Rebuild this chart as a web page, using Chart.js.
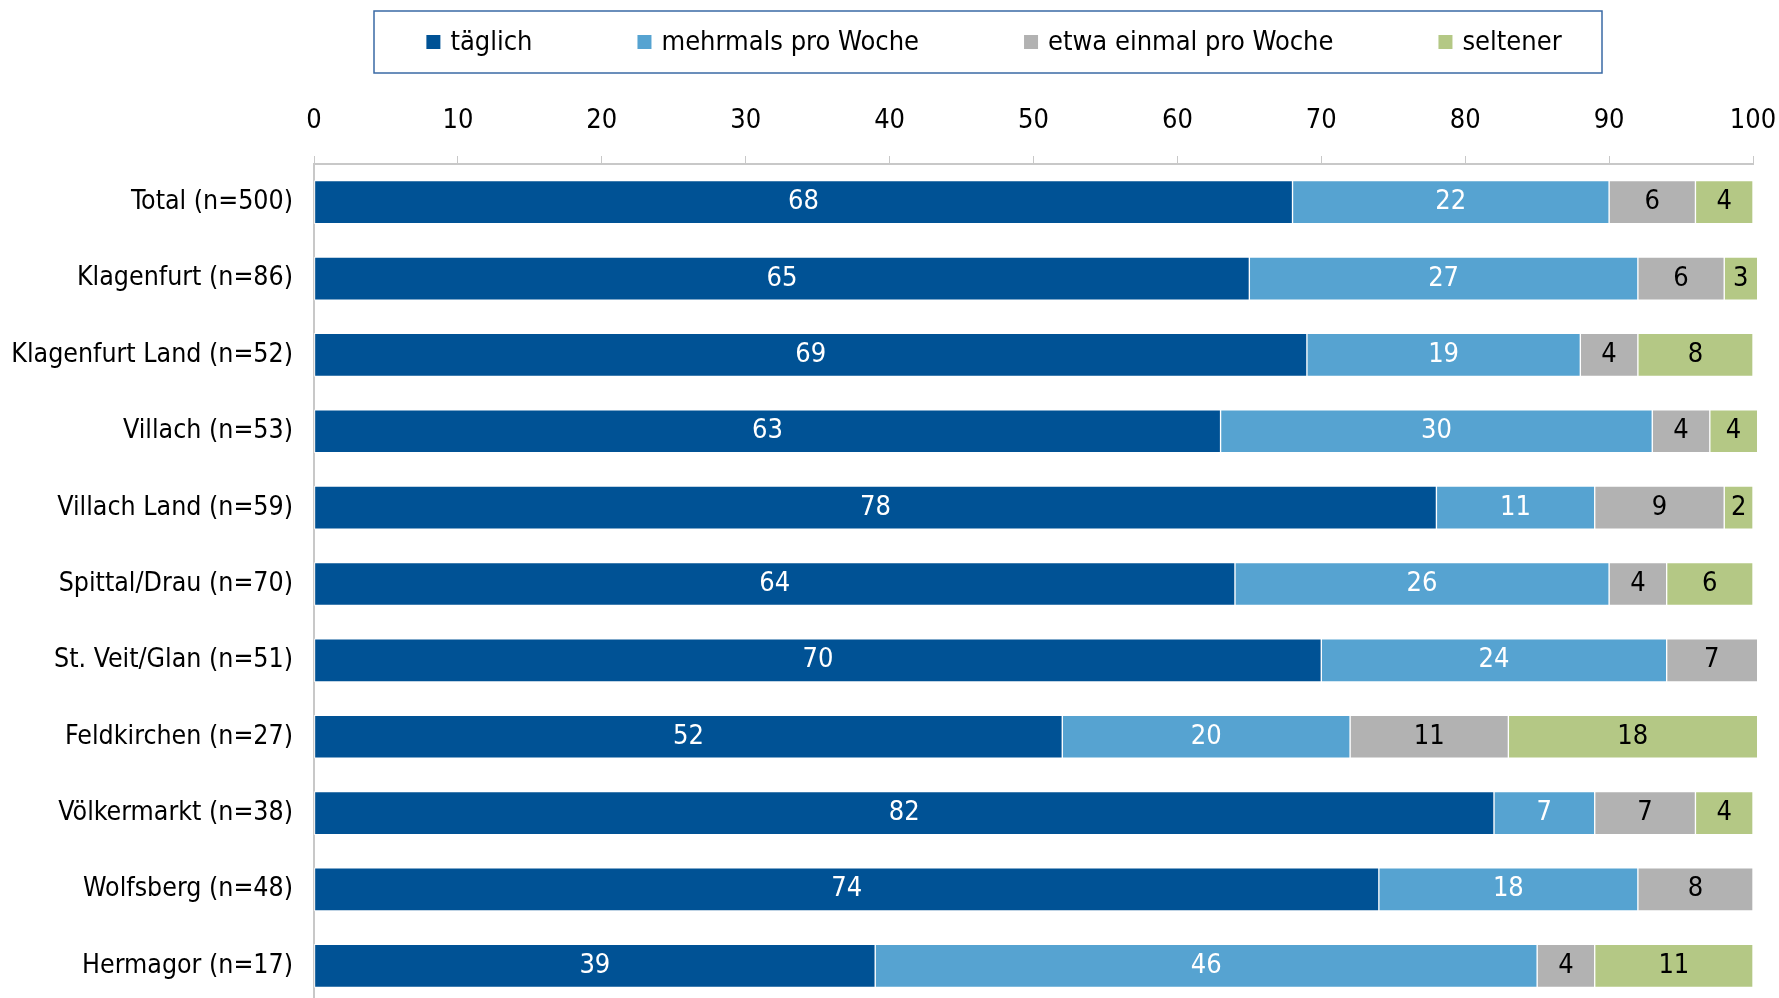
<!DOCTYPE html>
<html>
<head>
<meta charset="utf-8">
<script src="https://cdn.jsdelivr.net/npm/chart.js@4"></script>
<style>
  html, body { margin: 0; padding: 0; background: #fff; overflow: hidden; }
  #wrap { width: 1779px; height: 1004px; position: relative; }
</style>
</head>
<body>
<div id="wrap"><canvas id="myChart"></canvas></div>
<script>
'use strict';

// categories and series (percent)
let regions = ['Total (n=500)', 'Klagenfurt (n=86)', 'Klagenfurt Land (n=52)', 'Villach (n=53)',
  'Villach Land (n=59)', 'Spittal/Drau (n=70)', 'St. Veit/Glan (n=51)', 'Feldkirchen (n=27)',
  'Völkermarkt (n=38)', 'Wolfsberg (n=48)', 'Hermagor (n=17)'];
let taeglich = [68, 65, 69, 63, 78, 64, 70, 52, 82, 74, 39];
let mehrmals = [22, 27, 19, 30, 11, 26, 24, 20, 7, 18, 46];
let einmal = [6, 6, 4, 4, 9, 4, 7, 11, 7, 8, 4];
let seltener = [4, 3, 8, 4, 2, 6, null, 18, 4, null, 11];
let seriesNames = ['täglich', 'mehrmals pro Woche', 'etwa einmal pro Woche', 'seltener'];
let xTicks = [0, 10, 20, 30, 40, 50, 60, 70, 80, 90, 100];

let fontFam = '"DejaVu Sans Condensed", "Liberation Sans", sans-serif';
let colors = ['#005295', '#56a3d1', '#b2b2b2', '#b4c885'];
let labelColors = ['#ffffff', '#ffffff', '#000000', '#000000'];

// value labels inside the bars (centred on the visible part)
let barLabels = {
  id: 'barLabels',
  afterDatasetsDraw(chart) {
    let ctx = chart.ctx;
    let maxX = chart.chartArea.right + 4;
    ctx.save();
    ctx.font = '27px ' + fontFam;
    ctx.textAlign = 'center';
    ctx.textBaseline = 'middle';
    chart.data.datasets.forEach(function (ds, di) {
      let meta = chart.getDatasetMeta(di);
      meta.data.forEach(function (bar, i) {
        let v = ds.data[i];
        if (v === null || v === undefined) return;
        ctx.fillStyle = labelColors[di];
        ctx.fillText(String(v), (Math.min(bar.x, maxX) + bar.base) / 2, bar.y);
      });
    });
    ctx.restore();
  }
};

// framed legend on top
let boxLegend = {
  id: 'boxLegend',
  afterDraw(chart) {
    let ctx = chart.ctx;
    let left = 374, top = 11, right = 1602, bottom = 73;
    ctx.save();
    ctx.strokeStyle = '#3a6aa5';
    ctx.lineWidth = 1.5;
    ctx.strokeRect(left, top, right - left, bottom - top);
    ctx.font = '27px ' + fontFam;
    ctx.textBaseline = 'middle';
    ctx.textAlign = 'left';
    let box = 14, gapText = 10, gapItem = 105;
    let widths = chart.data.datasets.map(function (ds) {
      return box + gapText + ctx.measureText(ds.label).width;
    });
    let total = widths.reduce(function (a, b) { return a + b; }, 0) + gapItem * (widths.length - 1);
    let x = (left + right) / 2 - total / 2 + 6;
    let cy = 42;
    chart.data.datasets.forEach(function (ds, i) {
      ctx.fillStyle = ds.backgroundColor;
      ctx.fillRect(x, cy - box / 2, box, box);
      ctx.fillStyle = '#000';
      ctx.fillText(ds.label, x + box + gapText, cy + 1);
      x += widths[i] + gapItem;
    });
    ctx.restore();
  }
};

let allSeries = [taeglich, mehrmals, einmal, seltener];
let datasets = allSeries.map(function (vals, i) {
  return {
    label: seriesNames[i],
    data: vals,
    backgroundColor: colors[i],
    borderColor: '#ffffff',
    borderWidth: 1,
    borderSkipped: false,
    barThickness: 43,
    // plot area ends a hair past 100, totals of 101 get cut there
    clip: { left: 0, top: false, right: 4, bottom: false }
  };
});

let ctx = document.getElementById('myChart').getContext('2d');
let myChart = new Chart(ctx, {
  type: 'bar',
  data: {
    labels: regions,
    datasets: datasets
  },
  options: {
    indexAxis: 'y',
    responsive: true,
    maintainAspectRatio: false,
    animation: false,
    layout: {
      padding: { top: 90, right: 26, bottom: 0, left: 0 }
    },
    plugins: {
      legend: { display: false },
      tooltip: { enabled: false }
    },
    scales: {
      x: {
        position: 'top',
        stacked: true,
        min: 0,
        max: 100,
        afterBuildTicks(scale) {
          scale.ticks = xTicks.map(function (v) { return { value: v }; });
        },
        afterFit(scale) {
          scale.height = 74;
          scale.paddingLeft = 0;
          scale.paddingRight = 0;
        },
        grid: {
          display: true,
          drawOnChartArea: false,
          drawTicks: true,
          tickLength: 8,
          color: '#c8c8c8'
        },
        border: { display: true, color: '#c8c8c8', width: 2 },
        ticks: {
          padding: 19,
          color: '#000',
          font: { family: fontFam, size: 27 }
        }
      },
      y: {
        stacked: true,
        afterFit(scale) {
          scale.width = 314;
          scale.paddingTop = 0;
          scale.paddingBottom = 0;
        },
        grid: { display: false },
        border: { display: true, color: '#c8c8c8', width: 2 },
        ticks: {
          padding: 13,
          color: '#000',
          font: { family: fontFam, size: 26.5 }
        }
      }
    }
  },
  plugins: [barLabels, boxLegend]
});
</script>
</body>
</html>
